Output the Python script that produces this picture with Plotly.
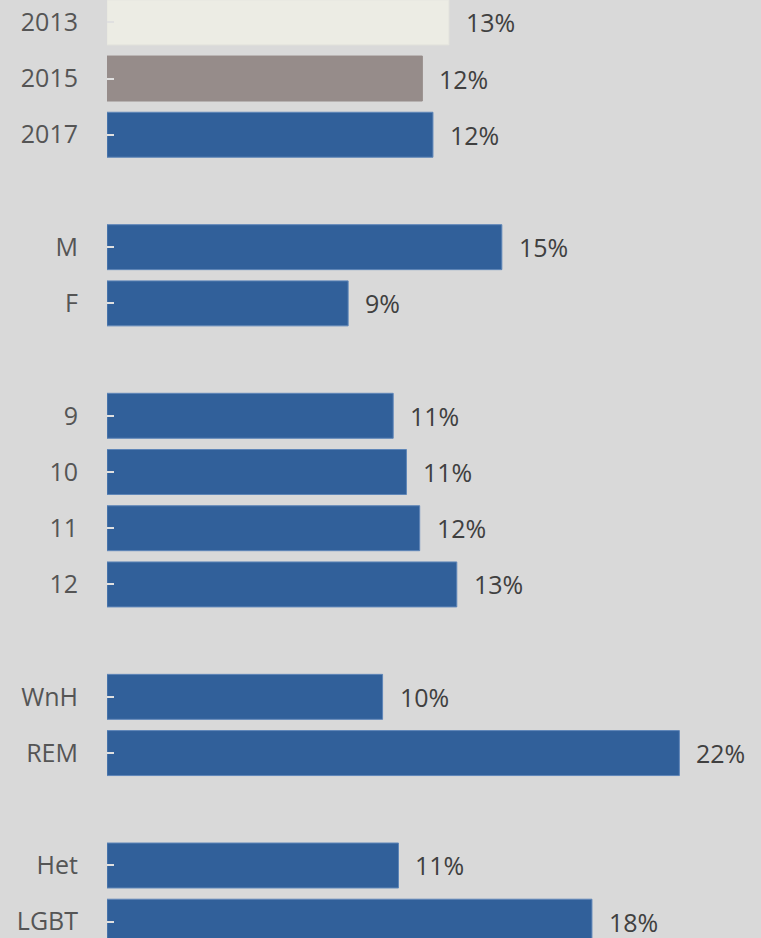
import plotly.graph_objects as go

# groups of bars, one blank row between groups
groups = [
    ["2013", "2015", "2017"],
    ["M", "F"],
    ["9", "10", "11", "12"],
    ["WnH", "REM"],
    ["Het", "LGBT"],
]
values = [
    [12.9, 11.9, 12.3],
    [14.9, 9.1],
    [10.8, 11.3, 11.8, 13.2],
    [10.4, 21.6],
    [11.0, 18.3],
]
first_colors = ["#ececE4", "#968c8a"]
BLUE = "#31609a"


def main():
    cats, vals, rows = [], [], []
    row = 0
    for g, vs in zip(groups, values):
        for c, v in zip(g, vs):
            cats.append(c)
            vals.append(v)
            rows.append(row)
            row += 1
        row += 1  # blank slot

    colors = first_colors + [BLUE] * (len(cats) - len(first_colors))
    edges = ["#e6e6de", "#968c8a"] + ["#5f86b8"] * (len(cats) - 2)

    fig = go.Figure(go.Bar(
        x=vals, y=rows, orientation="h", width=0.8,
        marker=dict(color=colors, line=dict(color=edges, width=1)),
        hoverinfo="skip",
    ))

    for v, r in zip(vals, rows):
        fig.add_annotation(
            x=v, y=r, text=f"{v:.0f}%", showarrow=False,
            xanchor="left", xshift=15,
            font=dict(family="Open Sans", size=25, color="#404040"),
        )

    fig.update_layout(
        width=761, height=938,
        margin=dict(l=107, r=0, t=0, b=0),
        paper_bgcolor="#d9d9d9", plot_bgcolor="#d9d9d9",
        showlegend=False,
        font=dict(family="Open Sans", size=25, color="#555555"),
    )
    fig.update_xaxes(range=[0, 24.68], visible=False)
    fig.update_yaxes(
        range=[16.29, -0.397], tickvals=rows, ticktext=cats,
        ticks="inside", ticklen=7, tickwidth=2, tickcolor="#e0e0e0",
        showgrid=False, zeroline=False, showline=False,
        ticklabelstandoff=28,
    )

    fig.write_html("out.html", config={"displayModeBar": False},
                   post_script="document.body.style.margin='0';"
                               "document.body.style.overflow='hidden';")


if __name__ == '__main__':
    main()
